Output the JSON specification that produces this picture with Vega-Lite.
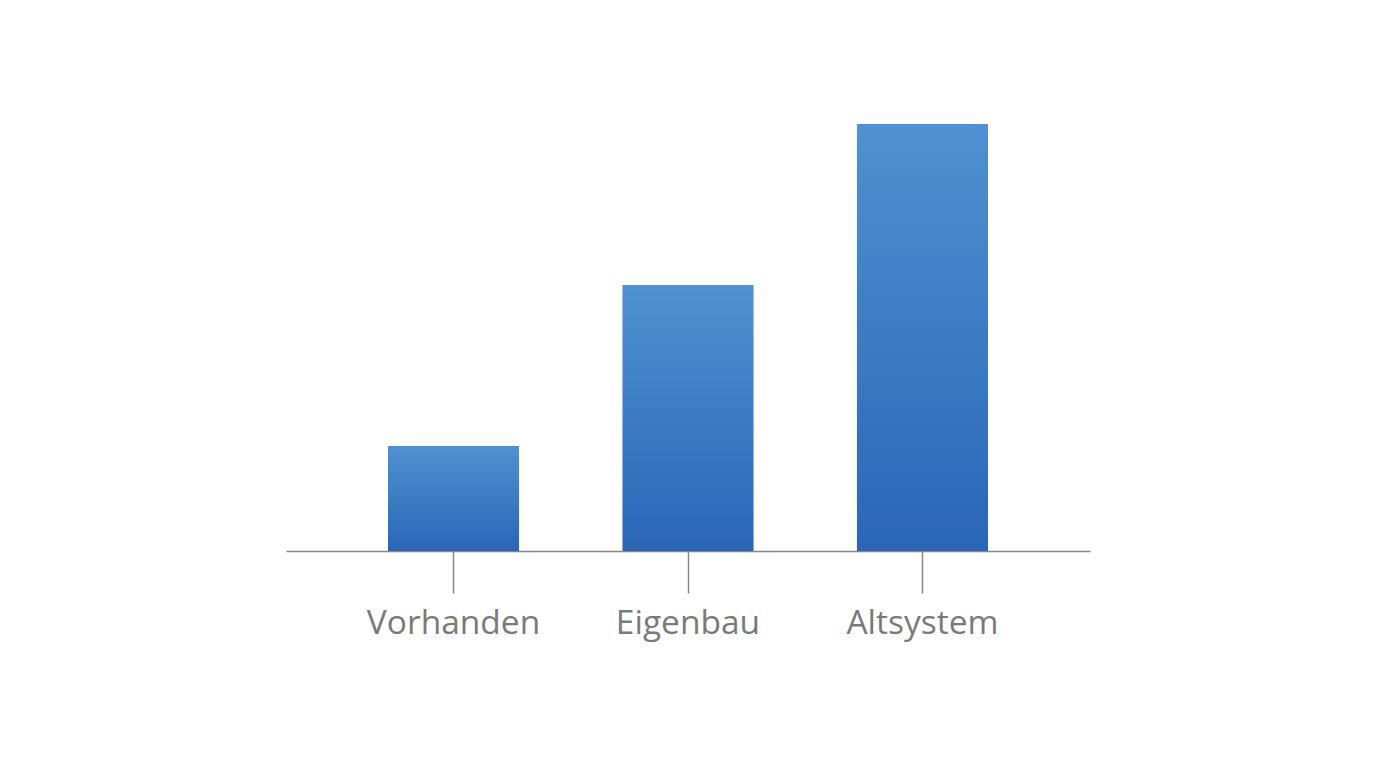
{
  "$schema": "https://vega.github.io/schema/vega-lite/v6.json",
  "width": 804,
  "height": 427,
  "padding": {"left": 286, "top": 124, "right": 5, "bottom": 20},
  "background": "white",
  "config": {"view": {"stroke": null}},
  "data": {"values": [
    {"kategorie": "Vorhanden", "wert": 24.6},
    {"kategorie": "Eigenbau", "wert": 62.3},
    {"kategorie": "Altsystem", "wert": 100}
  ]},
  "mark": {
    "type": "bar",
    "color": {
      "gradient": "linear",
      "x1": 0, "y1": 0, "x2": 0, "y2": 1,
      "stops": [
        {"offset": 0, "color": "#4f91d2"},
        {"offset": 1, "color": "#2a66b6"}
      ]
    }
  },
  "encoding": {
    "x": {
      "field": "kategorie",
      "type": "nominal",
      "sort": null,
      "scale": {"paddingInner": 0.441, "paddingOuter": 0.435},
      "axis": {
        "title": null,
        "labelAngle": 0,
        "labelFont": "Open Sans",
        "labelFontSize": 33.5,
        "labelFontWeight": 400,
        "labelColor": "#7a7a7a",
        "labelPadding": 14,
        "tickSize": 42,
        "tickColor": "#888888",
        "tickWidth": 1.5,
        "domainColor": "#888888",
        "domainWidth": 1.5
      }
    },
    "y": {
      "field": "wert",
      "type": "quantitative",
      "scale": {"domain": [0, 100]},
      "axis": null
    }
  }
}
